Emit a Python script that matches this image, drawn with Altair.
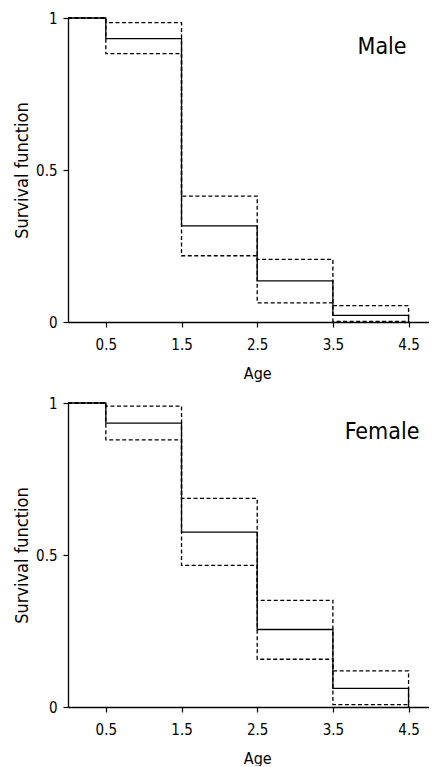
import altair as alt
import pandas as pd

# ---- data ----
ages = [0, 0.5, 1.5, 2.5, 3.5, 4.5]
male_est = [1.0, 0.932, 0.316, 0.135, 0.022, 0.0]
male_lower = [1.0, 0.883, 0.218, 0.063, 0.002, 0.0]
male_upper = [1.0, 0.985, 0.414, 0.206, 0.054, 0.0]
female_est = [1.0, 0.934, 0.575, 0.255, 0.061, 0.0]
female_lower = [1.0, 0.879, 0.466, 0.157, 0.008, 0.0]
female_upper = [1.0, 0.990, 0.686, 0.351, 0.119, 0.0]
x_ticks = [0.5, 1.5, 2.5, 3.5, 4.5]
y_ticks = [0, 0.5, 1]
series_names = ["estimate", "lower", "upper"]

FONT = "DejaVu Sans Condensed"
W, H = 361, 304
X_MAX = 4.77
UNIT = W / X_MAX  # pixels per year


def long_df(est, lo, up):
    rows = []
    for name, vals in zip(series_names, [est, lo, up]):
        for a, v in zip(ages, vals):
            rows.append({"Age": a, "S": v, "series": name})
    return pd.DataFrame(rows)


def panel(df, label, title_y="Survival function"):
    x = alt.X(
        "Age:Q",
        scale=alt.Scale(domain=[0, X_MAX], nice=False, zero=False),
        axis=alt.Axis(
            values=x_ticks, format=".1f", title="Age",
            titleX=2.5 * UNIT, titleY=43, titleBaseline="top", titleAlign="center",
        ),
    )
    y = alt.Y(
        "S:Q",
        scale=alt.Scale(domain=[0, 1], nice=False),
        axis=alt.Axis(
            values=y_ticks, format="~g", title=title_y,
            titleX=-46, titleY=H / 2, titleAngle=270, titleBaseline="middle", titleAlign="center",
            titleFontSize=18,
        ),
    )
    lines = alt.Chart(df).mark_line(interpolate="step-after", color="black", strokeWidth=1.3).encode(
        x=x,
        y=y,
        detail="series:N",
        strokeDash=alt.StrokeDash(
            "series:N",
            scale=alt.Scale(domain=series_names, range=[[1, 0], [4, 2.5], [4, 2.5]]),
            legend=None,
        ),
    )
    txt = alt.Chart(pd.DataFrame({"t": [label]})).mark_text(
        font=FONT, fontSize=23, color="black", align="center", baseline="middle"
    ).encode(x=alt.value(4.15 * UNIT), y=alt.value(29), text="t:N")
    return alt.layer(lines, txt).properties(width=W, height=H)


top = panel(long_df(male_est, male_lower, male_upper), "Male")
bottom = panel(long_df(female_est, female_lower, female_upper), "Female")

chart = (
    alt.vconcat(top, bottom, spacing=15)
    .properties(padding={"left": 5, "top": 3, "right": 0, "bottom": 0})
    .configure_view(stroke=None)
    .configure_axis(
        grid=False,
        domainColor="black",
        domainWidth=1.3,
        tickColor="black",
        tickSize=5,
        tickWidth=1.2,
        labelColor="black",
        titleColor="black",
        labelFont=FONT,
        titleFont=FONT,
        labelFontSize=15,
        titleFontSize=16,
        titleFontWeight="normal",
        labelPadding=6,
    )
    .configure_axisX(labelPadding=10)
)

chart.save("out.html", embed_options={"renderer": "svg", "actions": False})
